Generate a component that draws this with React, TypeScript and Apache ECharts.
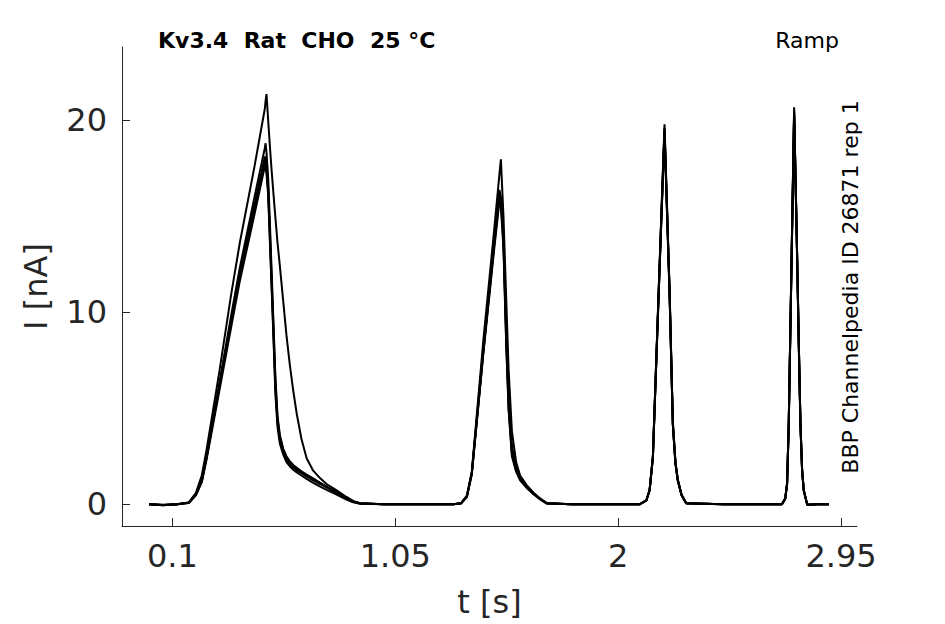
import React, { useEffect, useRef } from "react";
import * as echarts from "echarts";

// Shared time base (s)
const time = [
  0, 0.06, 0.12, 0.17, 0.2, 0.225, 0.245, 0.3, 0.35, 0.387,
  0.45, 0.494, 0.497, 0.501, 0.508, 0.515, 0.522, 0.529, 0.539, 0.548,
  0.558, 0.572, 0.586, 0.6, 0.615, 0.63, 0.65, 0.672, 0.7, 0.73,
  0.757, 0.8, 0.842, 0.87, 0.9, 1.0, 1.1, 1.2, 1.297,
  1.33, 1.355, 1.376, 1.425, 1.47, 1.494, 1.5, 1.511, 1.523, 1.533,
  1.547, 1.565, 1.582, 1.61, 1.639, 1.67, 1.696, 1.8, 1.95, 2.091,
  2.12, 2.134, 2.148, 2.173, 2.1975, 2.208, 2.219, 2.233, 2.244, 2.254,
  2.27, 2.29, 2.45, 2.6, 2.698,
  2.712, 2.72, 2.727, 2.74, 2.75, 2.757, 2.763, 2.77, 2.777, 2.784,
  2.791, 2.806, 2.85, 2.898,
];

// Current traces (nA), one per sweep
const trace1 = [
  0, -0.03, 0, 0.1, 0.6, 1.5, 2.8, 6.9, 10.9, 13.6,
  17.6, 20.6, 21.0, 21.35, 20.0, 18.7, 17.5, 16.4, 14.9, 13.6,
  12.4, 10.6, 8.8, 7.3, 5.9, 4.7, 3.4, 2.4, 1.75, 1.35,
  1.05, 0.72, 0.38, 0.18, 0.06, 0, 0, 0, 0,
  0.05, 0.45, 1.7, 8.5, 14.1, 17.2, 17.95, 15.0, 10.6, 7.0,
  3.8, 2.2, 1.5, 1.0, 0.6, 0.28, 0.06, 0, 0, 0,
  0.2, 0.75, 2.5, 11.3, 19.78, 15.6, 11.2, 4.3, 2.2, 1.3,
  0.5, 0.05, 0, 0, 0,
  0.3, 1.1, 4.2, 13.5, 20.66, 16.5, 12.9, 8.4, 4.2, 1.8,
  0.75, -0.03, 0, 0,
];
const trace2 = [
  0, -0.04, 0, 0.09, 0.52, 1.25, 2.5, 6.3, 9.8, 12.3,
  16.0, 18.55, 18.79, 18.3, 17.0, 14.8, 12.4, 10.0, 6.6, 4.6,
  3.6, 2.9, 2.5, 2.25, 2.05, 1.9, 1.72, 1.55, 1.35, 1.12,
  0.92, 0.62, 0.32, 0.14, 0.05, 0, 0, 0, 0,
  0.05, 0.42, 1.65, 8.1, 13.6, 16.36, 16.0, 14.0, 9.0, 5.6,
  3.0, 1.95, 1.42, 0.95, 0.58, 0.26, 0.05, 0, 0, 0,
  0.2, 0.74, 2.48, 11.15, 19.5, 15.4, 11.1, 4.2, 2.2, 1.27,
  0.5, 0.05, 0, 0, 0,
  0.3, 1.08, 4.15, 13.4, 20.4, 16.4, 12.8, 8.3, 4.2, 1.8,
  0.74, -0.03, 0, 0,
];
const trace3 = [
  0, -0.05, 0, 0.08, 0.5, 1.2, 2.4, 6.1, 9.5, 12.0,
  15.4, 17.85, 17.7, 17.4, 16.3, 14.0, 11.7, 9.4, 6.0, 4.2,
  3.35, 2.75, 2.35, 2.1, 1.9, 1.78, 1.62, 1.45, 1.25, 1.05,
  0.88, 0.6, 0.3, 0.13, 0.04, 0, 0, 0, 0,
  0.05, 0.4, 1.6, 7.9, 13.3, 16.0, 15.8, 13.6, 8.4, 5.0,
  2.6, 1.75, 1.3, 0.9, 0.55, 0.25, 0.05, 0, 0, 0,
  0.2, 0.73, 2.45, 11.1, 19.4, 15.3, 11.0, 4.15, 2.15, 1.25,
  0.48, 0.05, 0, 0, 0,
  0.29, 1.05, 4.1, 13.3, 20.3, 16.3, 12.7, 8.2, 4.1, 1.75,
  0.72, -0.03, 0, 0,
];
const trace4 = [
  0, -0.05, 0, 0.07, 0.47, 1.15, 2.3, 5.9, 9.2, 11.6,
  15.1, 17.6, 17.5, 17.2, 16.1, 13.8, 11.5, 9.2, 5.7, 4.0,
  3.15, 2.6, 2.2, 1.98, 1.8, 1.66, 1.5, 1.32, 1.12, 0.92,
  0.75, 0.5, 0.24, 0.1, 0.03, 0, 0, 0, 0,
  0.04, 0.38, 1.55, 7.8, 13.1, 15.8, 15.5, 13.3, 8.2, 4.9,
  2.5, 1.7, 1.25, 0.85, 0.52, 0.23, 0.04, 0, 0, 0,
  0.19, 0.72, 2.42, 11.0, 19.3, 15.2, 10.9, 4.1, 2.1, 1.22,
  0.47, 0.04, 0, 0, 0,
  0.28, 1.03, 4.05, 13.2, 20.2, 16.2, 12.6, 8.1, 4.05, 1.72,
  0.7, -0.03, 0, 0,
];
const trace5 = [
  0, -0.04, 0, 0.08, 0.5, 1.2, 2.4, 6.2, 9.6, 12.1,
  15.6, 18.1, 17.95, 17.6, 16.5, 14.3, 12.0, 9.7, 6.3, 4.4,
  3.5, 2.85, 2.45, 2.18, 1.98, 1.84, 1.68, 1.5, 1.3, 1.1,
  0.9, 0.63, 0.33, 0.15, 0.05, 0, 0, 0, 0,
  0.05, 0.4, 1.6, 7.95, 13.4, 16.1, 15.9, 13.8, 8.7, 5.3,
  2.8, 1.85, 1.35, 0.92, 0.56, 0.25, 0.05, 0, 0, 0,
  0.2, 0.74, 2.47, 11.2, 19.6, 15.5, 11.1, 4.2, 2.2, 1.28,
  0.5, 0.05, 0, 0, 0,
  0.3, 1.07, 4.15, 13.4, 20.5, 16.4, 12.8, 8.3, 4.15, 1.78,
  0.73, -0.03, 0, 0,
];

const traces = [trace1, trace2, trace3, trace4, trace5];
const xTicks = [0.1, 1.05, 2, 2.95];
const yTicks = [0, 10, 20];
const titleText = "Kv3.4  Rat  CHO  25 °C";
const protocolText = "Ramp";
const sideText = "BBP Channelpedia ID 26871 rep 1";
const xName = "t [s]";
const yName = "I [nA]";

export default function App() {
  const ref = useRef<HTMLDivElement>(null);

  useEffect(() => {
    if (!ref.current) return;
    const chart = echarts.init(ref.current, null, { renderer: "svg" });
    const axisColor = "#262626";
    const font = "DejaVu Sans";

    const series = traces.map((tr, i) => ({
      type: "line",
      name: "sweep " + (i + 1),
      data: time.map((t, j) => [t, tr[j]]),
      showSymbol: false,
      symbol: "none",
      lineStyle: { color: "#000", width: 2 },
      z: 2,
    }));

    chart.setOption({
      animation: false,
      backgroundColor: "#ffffff",
      grid: {
        left: 122,
        right: 88,
        top: 47,
        bottom: 98,
        containLabel: false,
        outerBoundsMode: "none",
      },
      xAxis: {
        type: "value",
        min: -0.115,
        max: 3.018,
        name: xName,
        nameLocation: "middle",
        nameGap: 60,
        nameMoveOverlap: false,
        nameTextStyle: { fontSize: 32, color: axisColor, fontFamily: font },
        axisLine: { show: true, onZero: false, lineStyle: { color: axisColor, width: 1 } },
        axisTick: {
          show: true,
          inside: true,
          length: 8,
          customValues: xTicks,
          lineStyle: { color: axisColor, width: 1 },
        },
        axisLabel: {
          show: true,
          customValues: xTicks,
          fontSize: 32,
          margin: 14,
          color: axisColor,
          fontFamily: font,
          formatter: (v: number) => String(v),
        },
        splitLine: { show: false },
      },
      yAxis: {
        type: "value",
        min: -1.13,
        max: 23.8,
        name: yName,
        nameLocation: "middle",
        nameGap: 70,
        nameMoveOverlap: false,
        nameTextStyle: { fontSize: 32, color: axisColor, fontFamily: font },
        axisLine: { show: true, onZero: false, lineStyle: { color: axisColor, width: 1 } },
        axisTick: {
          show: true,
          inside: true,
          length: 8,
          customValues: yTicks,
          lineStyle: { color: axisColor, width: 1 },
        },
        axisLabel: {
          show: true,
          customValues: yTicks,
          fontSize: 32,
          margin: 15,
          color: axisColor,
          fontFamily: font,
          formatter: (v: number) => String(v),
        },
        splitLine: { show: false },
      },
      graphic: [
        {
          type: "text",
          x: 158,
          y: 40,
          style: {
            text: titleText,
            fontSize: 22,
            fontWeight: "bold",
            fontFamily: font,
            fill: "#000",
            textAlign: "left",
            textVerticalAlign: "middle",
          },
        },
        {
          type: "text",
          x: 839,
          y: 40,
          style: {
            text: protocolText,
            fontSize: 22,
            fontFamily: font,
            fill: "#000",
            textAlign: "right",
            textVerticalAlign: "middle",
          },
        },
        {
          type: "text",
          x: 850,
          y: 287,
          rotation: Math.PI / 2,
          style: {
            text: sideText,
            fontSize: 22,
            fontFamily: font,
            fill: "#000",
            textAlign: "center",
            textVerticalAlign: "middle",
          },
        },
      ],
      series,
    });

    return () => {
      chart.dispose();
    };
  }, []);

  return (
    <div
      ref={ref}
      style={{ position: "fixed", left: 0, top: 0, width: 945, height: 624, background: "#fff" }}
    />
  );
}
